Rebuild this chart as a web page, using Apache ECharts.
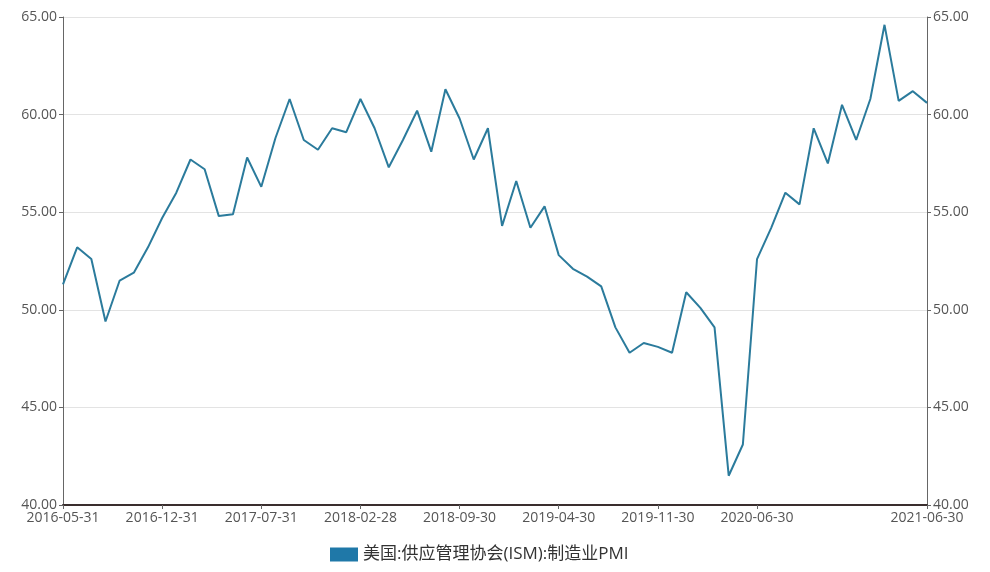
<!DOCTYPE html>
<html>
<head>
<meta charset="utf-8">
<script src="https://cdn.jsdelivr.net/npm/echarts@6/dist/echarts.min.js"></script>
<style>html,body{margin:0;padding:0;background:#fff;}#c{width:990px;height:572px;}</style>
</head>
<body>
<div id="c"></div>
<script>
var dates = [
'2016-05-31','2016-06-30','2016-07-31','2016-08-31','2016-09-30','2016-10-31','2016-11-30','2016-12-31',
'2017-01-31','2017-02-28','2017-03-31','2017-04-30','2017-05-31','2017-06-30','2017-07-31','2017-08-31','2017-09-30','2017-10-31','2017-11-30','2017-12-31',
'2018-01-31','2018-02-28','2018-03-31','2018-04-30','2018-05-31','2018-06-30','2018-07-31','2018-08-31','2018-09-30','2018-10-31','2018-11-30','2018-12-31',
'2019-01-31','2019-02-28','2019-03-31','2019-04-30','2019-05-31','2019-06-30','2019-07-31','2019-08-31','2019-09-30','2019-10-31','2019-11-30','2019-12-31',
'2020-01-31','2020-02-29','2020-03-31','2020-04-30','2020-05-31','2020-06-30','2020-07-31','2020-08-31','2020-09-30','2020-10-31','2020-11-30','2020-12-31',
'2021-01-31','2021-02-28','2021-03-31','2021-04-30','2021-05-31','2021-06-30'
];
var pmi = [
51.3,53.2,52.6,49.4,51.5,51.9,53.2,54.7,
56.0,57.7,57.2,54.8,54.9,57.8,56.3,58.8,60.8,58.7,58.2,59.3,
59.1,60.8,59.3,57.3,58.7,60.2,58.1,61.3,59.8,57.7,59.3,54.3,
56.6,54.2,55.3,52.8,52.1,51.7,51.2,49.1,47.8,48.3,48.1,47.8,
50.9,50.1,49.1,41.5,43.1,52.6,54.2,56.0,55.4,59.3,57.5,60.5,
58.7,60.8,64.6,60.7,61.2,60.6
];
var seriesName = '美国:供应管理协会(ISM):制造业PMI';
var yMin = 40, yMax = 65, yStep = 5;

var last = dates.length - 1;
function showIdx(i){ return (i % 7 === 0 && i < 56) || i === last; }
var font = '"Open Sans", "Noto Sans CJK SC", sans-serif';
var yAxisCommon = {
  type: 'value', min: yMin, max: yMax, interval: yStep,
  axisLine: { show: true, lineStyle: { color: '#666', width: 1 } },
  axisTick: { show: true, length: 4, lineStyle: { color: '#666' } },
  axisLabel: { color: '#555', fontSize: 14, fontFamily: font, margin: 6,
    formatter: function(v){ return v.toFixed(2); } },
  splitLine: { show: true, lineStyle: { color: '#e3e3e3', width: 1 } }
};
var chart = echarts.init(document.getElementById('c'), null, { renderer: 'canvas' });
chart.setOption({
  animation: false,
  backgroundColor: '#fff',
  grid: { left: 63, right: 63, top: 17, bottom: 67, containLabel: false },
  legend: {
    left: 325, top: 541,
    itemWidth: 28, itemHeight: 14, itemGap: 10,
    icon: 'rect',
    textStyle: { color: '#333', fontSize: 17, fontFamily: font },
    data: [{ name: seriesName, itemStyle: { color: '#1f78a8' } }]
  },
  xAxis: {
    type: 'category', data: dates, boundaryGap: false,
    axisLine: { show: true, lineStyle: { color: '#3a2e2e', width: 2 } },
    axisTick: { show: true, length: 4, interval: function(i){ return showIdx(i); }, lineStyle: { color: '#666' } },
    axisLabel: { color: '#555', fontSize: 14, fontFamily: font, margin: 6,
      interval: function(i){ return showIdx(i); }, showMaxLabel: true, hideOverlap: false }
  },
  yAxis: [
    Object.assign({}, yAxisCommon, { position: 'left' }),
    Object.assign({}, yAxisCommon, { position: 'right', splitLine: { show: false } })
  ],
  series: [{
    name: seriesName, type: 'line', data: pmi, yAxisIndex: 0,
    symbol: 'none', smooth: false,
    lineStyle: { color: '#2b7b9c', width: 2 },
    itemStyle: { color: '#1f78a8' }
  }]
});
</script>
</body>
</html>
